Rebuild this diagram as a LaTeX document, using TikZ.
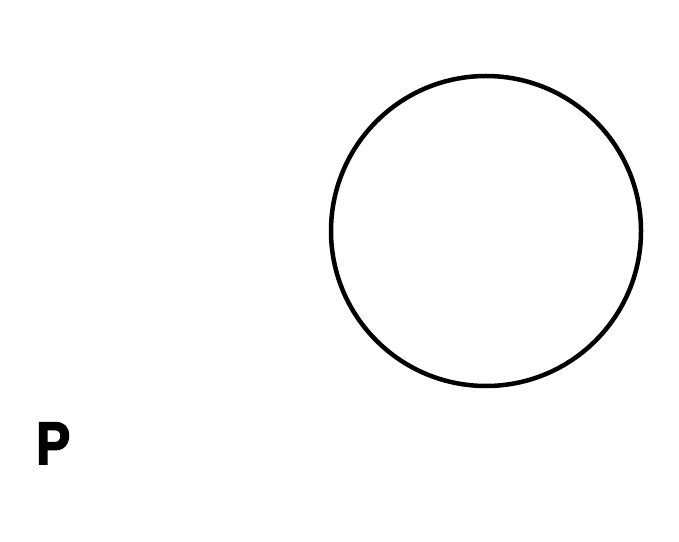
\documentclass[tikz,border=0pt]{standalone}
\usepackage{fontspec}
\setmainfont{Liberation Sans}
\newfontfamily\pfont{Liberation Sans Bold}[FakeBold=3]
\begin{document}
\begin{tikzpicture}[x=1pt,y=1pt,
  ring/.style={draw=black,line width=4.5pt},
  plabel/.style={font=\fontsize{60}{60}\pfont,inner sep=0pt,anchor=base west}]
\useasboundingbox (0,0) rectangle (679,541);
\fill[white] (0,0) rectangle (679,541);
\node[ring,circle,minimum size=310pt,inner sep=0pt] (c) at (486,310) {};
\node[plabel,xscale=0.85] (p) at (36,77) {P};
\end{tikzpicture}
\end{document}
